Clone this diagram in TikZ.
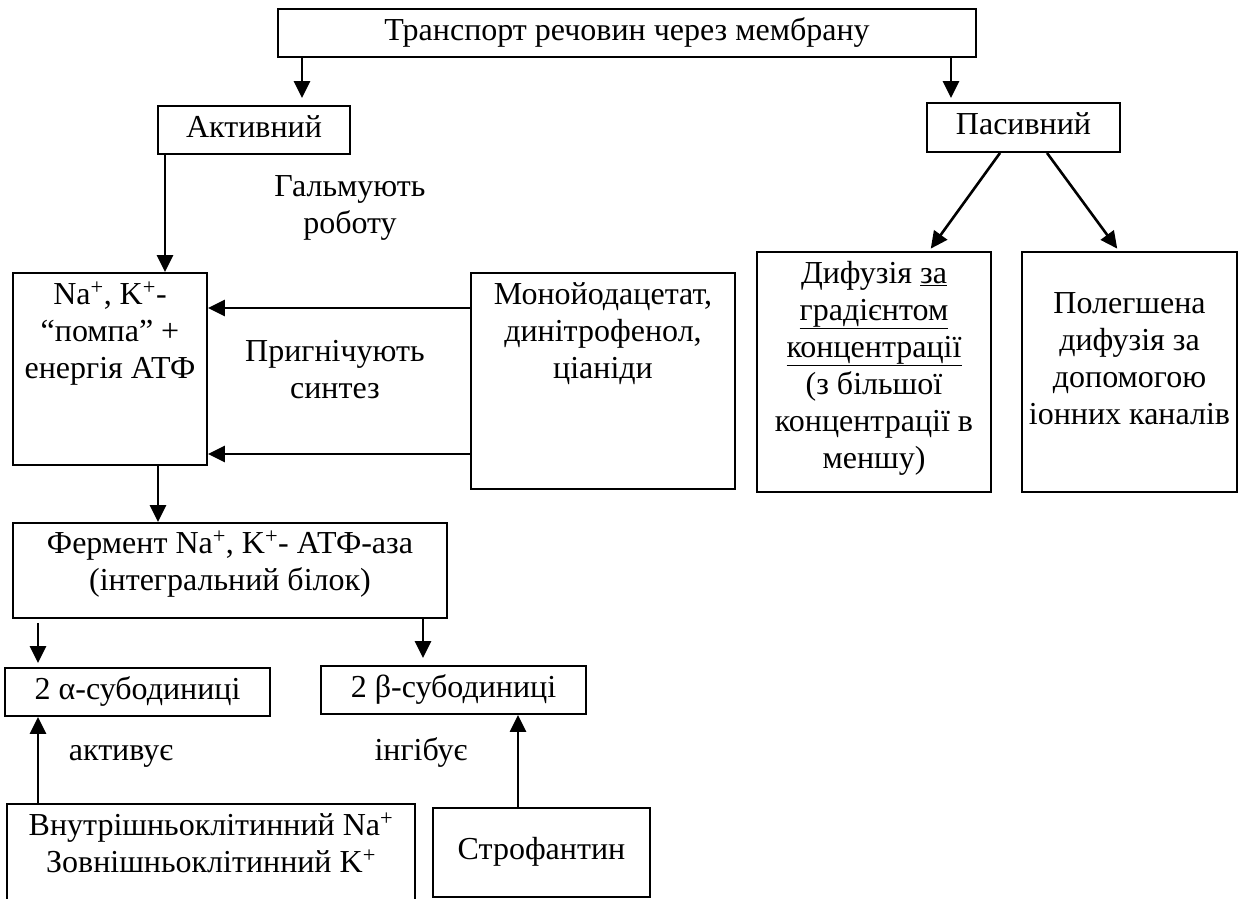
\documentclass[tikz,border=0pt]{standalone}
\usepackage{fontspec}
\setmainfont{Liberation Serif}
\usetikzlibrary{arrows.meta}
\begin{document}
\begin{tikzpicture}[x=1pt,y=-1pt,
  box/.style={draw, line width=1.9pt, inner sep=0pt,
    font=\fontsize{32}{37}\selectfont, text height=22pt, text depth=8pt},
  txt/.style={font=\fontsize{32}{37}\selectfont, align=center, inner sep=0pt, anchor=base},
  arr/.style={line width=2.6pt, -{Triangle[length=17pt,width=16pt]}}]
\useasboundingbox (0,0) rectangle (1238,898);
\clip (0,0) rectangle (1238,898);

% boxes
\node[box, minimum width=698pt, minimum height=48pt] (top) at (627,33) {Транспорт речовин через мембрану};
\node[box, minimum width=192pt, minimum height=48pt] (akt) at (254,130) {Активний};
\node[box, minimum width=193pt, minimum height=49pt] (pas) at (1023.5,127.5) {Пасивний};
\node[box, minimum width=194pt, minimum height=192pt] (na) at (110,369) {};
\node[box, minimum width=264pt, minimum height=216pt] (mono) at (603,381) {};
\node[box, minimum width=234pt, minimum height=240pt] (dyf) at (874,372) {};
\node[box, minimum width=215pt, minimum height=240pt] (pol) at (1129.5,372) {};
\node[box, minimum width=434pt, minimum height=95pt] (ferm) at (230,570.5) {};
\node[box, minimum width=265pt, minimum height=48pt] (alpha) at (137.5,692) {2 α-субодиниці};
\node[box, minimum width=265pt, minimum height=48pt] (beta) at (453.5,690) {2 β-субодиниці};
\node[box, minimum width=408pt, minimum height=112pt] (vn) at (211,860) {};
\node[box, minimum width=217pt, minimum height=89pt] (stro) at (541.5,852.5) {Строфантин};

% box texts (placed by the baseline of the last line)
\node[txt] (naT) at (110,378) {Na\textsuperscript{+}, K\textsuperscript{+}-\\“помпа” +\\енергія АТФ};
\node[txt] (monoT) at (603,378) {Монойодацетат,\\динітрофенол,\\ціаніди};
\node[txt] (dyfT) at (874,468) {Дифузія \underline{за}\\\underline{градієнтом}\\\underline{концентрації}\\(з більшої\\концентрації в\\меншу)};
\node[txt] (polT) at (1129.5,424) {Полегшена\\дифузія за\\допомогою\\іонних каналів};
\node[txt] (fermT) at (230,590) {Фермент Na\textsuperscript{+}, K\textsuperscript{+}- АТФ-аза\\(інтегральний білок)};
\node[txt] (vnT) at (211,872) {Внутрішньоклітинний Na\textsuperscript{+}\\Зовнішньоклітинний K\textsuperscript{+}};

% free labels
\node[txt] (halT) at (350,233) {Гальмують\\роботу};
\node[txt] (pryT) at (335,398) {Пригнічують\\синтез};
\node[txt] (actT) at (121,760) {активує};
\node[txt] (inhT) at (421,760) {інгібує};

% connector columns
\coordinate (xa) at (302,0);
\coordinate (xb) at (951,0);
\coordinate (xc) at (165,0);
\coordinate (xd) at (158,0);
\coordinate (xe) at (38,0);
\coordinate (xf) at (423,0);
\coordinate (xg) at (518,0);
\coordinate (m1) at ([yshift=73pt]mono.west);
\coordinate (m2) at ([yshift=-73pt]mono.west);

% connectors
\draw[arr, shorten >=7pt] (top.south -| xa) -- (akt.north -| xa);
\draw[arr, shorten >=4pt] (top.south -| xb) -- (pas.north -| xb);
\draw[arr] (akt.south -| xc) -- (na.north -| xc);
\draw[arr, shorten >=3pt] ([xshift=-23.5pt]pas.south) -- ([xshift=55pt]dyf.north);
\draw[arr, shorten >=3pt] ([xshift=23.5pt]pas.south) -- ([xshift=-10.5pt]pol.north);
\draw[arr] (m1) -- (m1 -| na.east);
\draw[arr] (m2) -- (m2 -| na.east);
\draw[arr] (na.south -| xd) -- (ferm.north -| xd);
\draw[arr, shorten <=4pt, shorten >=4pt] (ferm.south -| xe) -- (alpha.north -| xe);
\draw[arr, shorten >=7pt] (ferm.south -| xf) -- (beta.north -| xf);
\draw[arr] (vn.north -| xe) -- (alpha.south -| xe);
\draw[arr] (stro.north -| xg) -- (beta.south -| xg);
\end{tikzpicture}
\end{document}
